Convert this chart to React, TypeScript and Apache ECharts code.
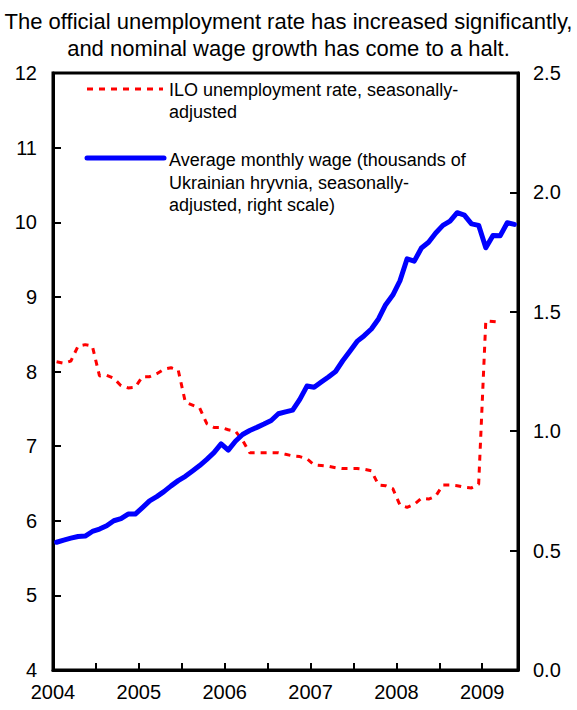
import React, { useEffect, useRef } from "react";
import * as echarts from "echarts";

const TITLE = "The official unemployment rate has increased significantly,\nand nominal wage growth has come to a halt.";
const START_YEAR = 2004;
const LEFT_TICKS = { min: 4, max: 12, interval: 1 };
const RIGHT_TICKS = { min: 0, max: 2.5, interval: 0.5 };

// ILO unemployment rate, monthly from Jan 2004 (percent)
const unemployment = [
  8.13, 8.11, 8.14, 8.34, 8.36, 8.34, 7.94, 7.95, 7.91, 7.81, 7.78, 7.79,
  7.93, 7.93, 7.97, 8.03, 8.05, 8.02, 7.59, 7.55, 7.51, 7.30, 7.25, 7.25,
  7.22, 7.20, 7.08, 6.91, 6.91, 6.91, 6.91, 6.91, 6.89, 6.87, 6.86, 6.83,
  6.75, 6.74, 6.73, 6.71, 6.70, 6.70, 6.70, 6.69, 6.67, 6.48, 6.47, 6.43,
  6.21, 6.18, 6.22, 6.30, 6.29, 6.33, 6.48, 6.48, 6.47, 6.45, 6.44, 6.49,
  8.68, 8.67, 8.66,
];

// Average monthly wage, thousands of hryvnia, monthly from Jan 2004
const wage = [
  0.535, 0.544, 0.552, 0.559, 0.561, 0.580, 0.590, 0.604, 0.625, 0.634, 0.653, 0.653,
  0.680, 0.708, 0.726, 0.747, 0.771, 0.793, 0.811, 0.833, 0.856, 0.882, 0.910, 0.947,
  0.921, 0.958, 0.986, 1.003, 1.016, 1.030, 1.045, 1.073, 1.081, 1.088, 1.133, 1.189,
  1.184, 1.206, 1.227, 1.250, 1.295, 1.335, 1.376, 1.400, 1.428, 1.470, 1.530, 1.570,
  1.630, 1.722, 1.712, 1.767, 1.791, 1.830, 1.862, 1.880, 1.915, 1.905, 1.868, 1.862,
  1.768, 1.820, 1.818, 1.873, 1.866,
];

const LEGEND_RED = "ILO unemployment rate, seasonally-\nadjusted";
const LEGEND_BLUE = "Average monthly wage (thousands of\nUkrainian hryvnia, seasonally-\nadjusted, right scale)";

const monthX = (i: number) => START_YEAR + (i + 0.5) / 12;

const FONT = "'Liberation Sans', Arial, sans-serif";

export default function App() {
  const ref = useRef<HTMLDivElement>(null);
  useEffect(() => {
    if (!ref.current) return;
    const chart = echarts.init(ref.current, undefined, { renderer: "svg" });
    const redData = unemployment.map((v, i) => [monthX(i), v]);
    const blueData = wage.map((v, i) => [monthX(i), v]);
    chart.setOption({
      animation: false,
      backgroundColor: "#fff",
      textStyle: { fontFamily: FONT },
      title: {
        text: TITLE,
        left: "center",
        top: 3,
        textStyle: { fontSize: 22, lineHeight: 27, fontWeight: "normal", color: "#000", fontFamily: FONT },
      },
      grid: { left: 53, right: 59, top: 73, bottom: 40, show: true, borderColor: "#000", borderWidth: 3, backgroundColor: "transparent" },
      xAxis: {
        type: "value",
        min: START_YEAR,
        max: 2009 + 5 / 12,
        interval: 0.5,
        axisLine: { show: true, lineStyle: { color: "#000", width: 3 } },
        axisTick: { show: true, inside: true, length: 7, lineStyle: { color: "#000", width: 2 } },
        splitLine: { show: false },
        axisLabel: {
          color: "#000",
          fontSize: 20,
          margin: 12,
          fontFamily: FONT,
          showMaxLabel: false,
          formatter: (v: number) => (Math.abs(v - Math.round(v)) < 1e-6 ? String(Math.round(v)) : ""),
        },
      },
      yAxis: [
        {
          type: "value",
          ...LEFT_TICKS,
          position: "left",
          axisLine: { show: true, lineStyle: { color: "#000", width: 3 } },
          axisTick: { show: true, inside: true, length: 8, lineStyle: { color: "#000", width: 2 } },
          splitLine: { show: false },
          axisLabel: { color: "#000", fontSize: 20, margin: 16, fontFamily: FONT },
        },
        {
          type: "value",
          ...RIGHT_TICKS,
          position: "right",
          axisLine: { show: true, lineStyle: { color: "#000", width: 3 } },
          axisTick: { show: true, inside: true, length: 8, lineStyle: { color: "#000", width: 2 } },
          splitLine: { show: false },
          axisLabel: { color: "#000", fontSize: 20, margin: 15, fontFamily: FONT, formatter: (v: number) => v.toFixed(1) },
        },
      ],
      series: [
        {
          name: "ILO unemployment rate",
          type: "line",
          yAxisIndex: 0,
          data: redData,
          showSymbol: false,
          lineStyle: { color: "#ff0000", width: 3, type: [6, 6] },
          z: 2,
        },
        {
          name: "Average monthly wage",
          type: "line",
          yAxisIndex: 1,
          data: blueData,
          showSymbol: false,
          lineStyle: { color: "#0000ff", width: 5, cap: "round", join: "round" },
          z: 3,
        },
      ],
      graphic: [
        { type: "line", shape: { x1: 87, y1: 89, x2: 163, y2: 89 }, style: { stroke: "#ff0000", lineWidth: 3, lineDash: [6, 6] } },
        { type: "line", shape: { x1: 87, y1: 158, x2: 164, y2: 158 }, style: { stroke: "#0000ff", lineWidth: 5, lineCap: "round" } },
        { type: "text", x: 169, y: 79, style: { text: LEGEND_RED, fill: "#000", font: `18px ${FONT}`, lineHeight: 22, verticalAlign: "top", textVerticalAlign: "top" } },
        { type: "text", x: 169, y: 149, style: { text: LEGEND_BLUE, fill: "#000", font: `18px ${FONT}`, lineHeight: 22.5, verticalAlign: "top", textVerticalAlign: "top" } },
      ],
    });
    return () => chart.dispose();
  }, []);
  return <div ref={ref} style={{ position: "fixed", left: 0, top: 0, width: 577, height: 710 }} />;
}
